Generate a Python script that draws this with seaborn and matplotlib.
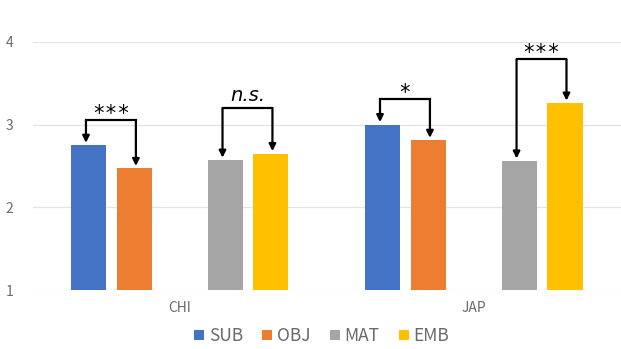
import matplotlib
matplotlib.use("Agg")
import matplotlib.pyplot as plt
from matplotlib.lines import Line2D
import pandas as pd
import seaborn as sns

# Mean ratings per language group and clause type
groups = ["CHI", "JAP"]
conditions = ["SUB", "OBJ", "MAT", "EMB"]
chi_means = [2.75, 2.47, 2.57, 2.65]
jap_means = [3.00, 2.81, 2.56, 3.26]
colors = ["#4472C4", "#ED7D31", "#A5A5A5", "#FFC000"]
y_ticks = [1, 2, 3, 4]

# Pairwise comparisons: (group, left condition, right condition, significance label)
comparisons = [
    ("CHI", "SUB", "OBJ", "***"),
    ("CHI", "MAT", "EMB", "n.s."),
    ("JAP", "SUB", "OBJ", "*"),
    ("JAP", "MAT", "EMB", "***"),
]

rows = []
for g, vals in zip(groups, [chi_means, jap_means]):
    for c, v in zip(conditions, vals):
        rows.append({"group": g, "condition": c, "mean": v})
df = pd.DataFrame(rows)

# an empty slot separates the SUB/OBJ pair from the MAT/EMB pair
hue_order = ["SUB", "OBJ", " ", "MAT", "EMB"]
palette = dict(zip(conditions, colors))
palette[" "] = "#FFFFFF"

sns.set_theme(style="white")
plt.rcParams["font.family"] = ["Noto Sans CJK JP", "DejaVu Sans"]

fig = plt.figure(figsize=(6.21, 3.49), dpi=100)
ax = fig.add_axes([0.053, 0.169, 0.947, 0.711])

sns.barplot(data=df, x="group", y="mean", hue="condition", order=groups,
            hue_order=hue_order, palette=palette, width=0.774, gap=0.23,
            errorbar=None, legend=False, ax=ax, saturation=1,
            edgecolor="none", linewidth=0)

ax.set_ylim(1, 4)
ax.set_yticks(y_ticks)
ax.set_xlim(-0.5, 1.5)
ax.yaxis.grid(True, color="#E3E3E3", linewidth=0.9)
ax.set_axisbelow(True)
for s in ax.spines.values():
    s.set_visible(False)
ax.set_xlabel("")
ax.set_ylabel("")
ax.tick_params(axis="both", length=0, colors="#6A6A6A", labelsize=10)
ax.tick_params(axis="y", pad=14)
ax.tick_params(axis="x", pad=8)

# locate each drawn bar by group and condition
bars = {}
for i, g in enumerate(groups):
    in_group = [p for p in ax.patches
                if p.get_height() > 0 and round(p.get_x() + p.get_width() / 2) == i]
    in_group.sort(key=lambda p: p.get_x())
    for c, p in zip(conditions, in_group):
        bars[(g, c)] = (p.get_x() + p.get_width() / 2, p.get_height())

# bracket heights above the bars, in data units
bracket_y = [3.05, 3.20, 3.31, 3.79]
for (g, c1, c2, label), yb in zip(comparisons, bracket_y):
    x1, h1 = bars[(g, c1)]
    x2, h2 = bars[(g, c2)]
    x1 -= 0.01
    x2 += 0.005
    ax.plot([x1, x2], [yb, yb], color="black", lw=1.6,
            solid_capstyle="projecting", clip_on=False, zorder=5)
    for x, h in ((x1, h1), (x2, h2)):
        ax.annotate("", xy=(x, h + 0.03), xytext=(x, yb),
                    arrowprops=dict(arrowstyle="-|>", color="black", lw=1.6,
                                    mutation_scale=10, shrinkA=0, shrinkB=0),
                    zorder=5)
    if label == "n.s.":
        ax.text((x1 + x2) / 2, yb + 0.09, label, ha="center", va="baseline",
                fontsize=14, style="italic", family="DejaVu Sans", color="black")
    else:
        ax.text((x1 + x2) / 2, yb, label, ha="center", va="baseline",
                fontsize=15, family="DejaVu Sans Mono", color="black")

handles = [Line2D([], [], marker="s", linestyle="none", markersize=7.5,
                  markerfacecolor=col, markeredgewidth=0) for col in colors]
fig.legend(handles, conditions, loc="center", bbox_to_anchor=(0.515, 0.037),
           ncol=4, frameon=False, fontsize=12.5, handletextpad=0.05,
           columnspacing=0.9, handlelength=1.0, labelcolor="#6A6A6A")

fig.savefig("out.png", dpi=100)
